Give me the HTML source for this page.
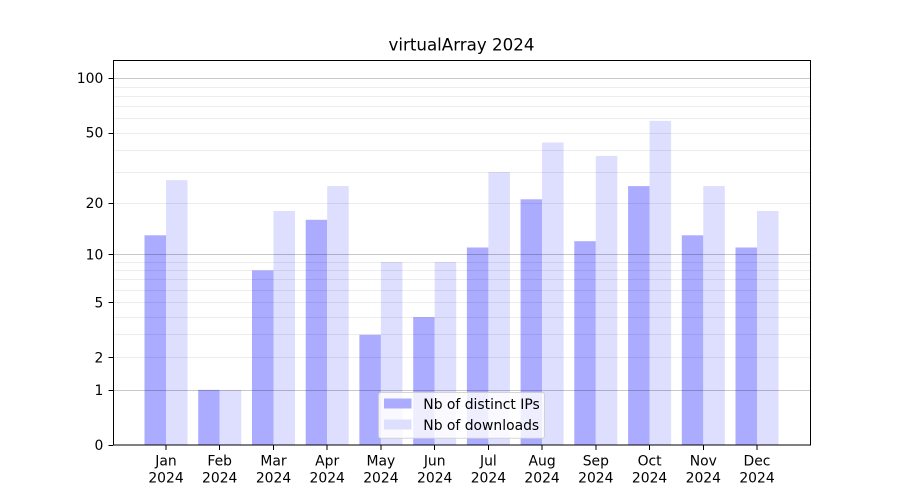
<!DOCTYPE html>
<html><head><meta charset="utf-8"><style>
html,body{margin:0;padding:0;background:#fff;}
svg{display:block;font-family:"DejaVu Sans","Liberation Sans",sans-serif;}
</style></head><body>
<svg width="900" height="500" viewBox="0 0 900 500" xmlns="http://www.w3.org/2000/svg">
<rect width="900" height="500" fill="#fff"/>
<!-- bars -->
<g>
<rect x="144.5" y="235.3" width="21.5" height="209.7" fill="#ababff"/>
<rect x="166.0" y="180.2" width="21.5" height="264.8" fill="#dedeff"/>
<rect x="198.2" y="389.9" width="21.5" height="55.1" fill="#ababff"/>
<rect x="219.7" y="389.9" width="21.5" height="55.1" fill="#dedeff"/>
<rect x="252.0" y="270.4" width="21.5" height="174.6" fill="#ababff"/>
<rect x="273.5" y="211.0" width="21.5" height="234.0" fill="#dedeff"/>
<rect x="305.7" y="219.8" width="21.5" height="225.2" fill="#ababff"/>
<rect x="327.2" y="186.1" width="21.5" height="258.9" fill="#dedeff"/>
<rect x="359.4" y="334.8" width="21.5" height="110.2" fill="#ababff"/>
<rect x="380.9" y="262.0" width="21.5" height="183.0" fill="#dedeff"/>
<rect x="413.2" y="317.1" width="21.5" height="127.9" fill="#ababff"/>
<rect x="434.7" y="262.0" width="21.5" height="183.0" fill="#dedeff"/>
<rect x="466.9" y="247.5" width="21.5" height="197.5" fill="#ababff"/>
<rect x="488.4" y="172.1" width="21.5" height="272.9" fill="#dedeff"/>
<rect x="520.6" y="199.3" width="21.5" height="245.7" fill="#ababff"/>
<rect x="542.1" y="142.5" width="21.5" height="302.5" fill="#dedeff"/>
<rect x="574.3" y="241.2" width="21.5" height="203.8" fill="#ababff"/>
<rect x="595.8" y="155.9" width="21.5" height="289.1" fill="#dedeff"/>
<rect x="628.1" y="186.1" width="21.5" height="258.9" fill="#ababff"/>
<rect x="649.6" y="120.9" width="21.5" height="324.1" fill="#dedeff"/>
<rect x="681.8" y="235.3" width="21.5" height="209.7" fill="#ababff"/>
<rect x="703.3" y="186.1" width="21.5" height="258.9" fill="#dedeff"/>
<rect x="735.5" y="247.5" width="21.5" height="197.5" fill="#ababff"/>
<rect x="757.0" y="211.0" width="21.5" height="234.0" fill="#dedeff"/>
</g>
<!-- minor grid -->
<g stroke="rgba(0,0,0,0.075)" stroke-width="1" shape-rendering="crispEdges">
<line x1="113" x2="810" y1="357.5" y2="357.5"/>
<line x1="113" x2="810" y1="334.5" y2="334.5"/>
<line x1="113" x2="810" y1="317.5" y2="317.5"/>
<line x1="113" x2="810" y1="302.5" y2="302.5"/>
<line x1="113" x2="810" y1="290.5" y2="290.5"/>
<line x1="113" x2="810" y1="279.5" y2="279.5"/>
<line x1="113" x2="810" y1="270.5" y2="270.5"/>
<line x1="113" x2="810" y1="262.5" y2="262.5"/>
<line x1="113" x2="810" y1="203.5" y2="203.5"/>
<line x1="113" x2="810" y1="172.5" y2="172.5"/>
<line x1="113" x2="810" y1="150.5" y2="150.5"/>
<line x1="113" x2="810" y1="133.5" y2="133.5"/>
<line x1="113" x2="810" y1="118.5" y2="118.5"/>
<line x1="113" x2="810" y1="106.5" y2="106.5"/>
<line x1="113" x2="810" y1="96.5" y2="96.5"/>
<line x1="113" x2="810" y1="87.5" y2="87.5"/>
</g>
<!-- major grid -->
<g stroke="rgba(0,0,0,0.22)" stroke-width="1" shape-rendering="crispEdges">
<line x1="113" x2="810" y1="390.5" y2="390.5"/>
<line x1="113" x2="810" y1="254.5" y2="254.5"/>
<line x1="113" x2="810" y1="78.5" y2="78.5"/>
</g>
<!-- axes frame -->
<rect x="113.5" y="60.5" width="697" height="384.5" fill="none" stroke="#000" stroke-width="1" shape-rendering="crispEdges"/>
<!-- y ticks -->
<g stroke="#000" stroke-width="1" shape-rendering="crispEdges">
<line x1="108.5" x2="113" y1="445.5" y2="445.5"/>
<line x1="108.5" x2="113" y1="390.5" y2="390.5"/>
<line x1="108.5" x2="113" y1="357.5" y2="357.5"/>
<line x1="108.5" x2="113" y1="302.5" y2="302.5"/>
<line x1="108.5" x2="113" y1="254.5" y2="254.5"/>
<line x1="108.5" x2="113" y1="203.5" y2="203.5"/>
<line x1="108.5" x2="113" y1="133.5" y2="133.5"/>
<line x1="108.5" x2="113" y1="78.5" y2="78.5"/>
</g>
<g font-size="13.9" fill="#000" text-anchor="end">
<text x="103.3" y="450">0</text>
<text x="103.3" y="394.9">1</text>
<text x="103.3" y="362.7">2</text>
<text x="103.3" y="307.6">5</text>
<text x="103.3" y="259.4">10</text>
<text x="103.3" y="208.0">20</text>
<text x="103.3" y="137.5">50</text>
<text x="103.3" y="83.2">100</text>
</g>
<!-- x ticks -->
<g stroke="#000" stroke-width="1" shape-rendering="crispEdges">
<line x1="166.0" x2="166.0" y1="445" y2="450"/>
<line x1="219.7" x2="219.7" y1="445" y2="450"/>
<line x1="273.5" x2="273.5" y1="445" y2="450"/>
<line x1="327.2" x2="327.2" y1="445" y2="450"/>
<line x1="380.9" x2="380.9" y1="445" y2="450"/>
<line x1="434.7" x2="434.7" y1="445" y2="450"/>
<line x1="488.4" x2="488.4" y1="445" y2="450"/>
<line x1="542.1" x2="542.1" y1="445" y2="450"/>
<line x1="595.8" x2="595.8" y1="445" y2="450"/>
<line x1="649.6" x2="649.6" y1="445" y2="450"/>
<line x1="703.3" x2="703.3" y1="445" y2="450"/>
<line x1="757.0" x2="757.0" y1="445" y2="450"/>
</g>
<g font-size="13.9" fill="#000" text-anchor="middle">
<text x="166.0" y="465.5">Jan</text><text x="166.0" y="482.3">2024</text>
<text x="219.7" y="465.5">Feb</text><text x="219.7" y="482.3">2024</text>
<text x="273.5" y="465.5">Mar</text><text x="273.5" y="482.3">2024</text>
<text x="327.2" y="465.5">Apr</text><text x="327.2" y="482.3">2024</text>
<text x="380.9" y="465.5">May</text><text x="380.9" y="482.3">2024</text>
<text x="434.7" y="465.5">Jun</text><text x="434.7" y="482.3">2024</text>
<text x="488.4" y="465.5">Jul</text><text x="488.4" y="482.3">2024</text>
<text x="542.1" y="465.5">Aug</text><text x="542.1" y="482.3">2024</text>
<text x="595.8" y="465.5">Sep</text><text x="595.8" y="482.3">2024</text>
<text x="649.6" y="465.5">Oct</text><text x="649.6" y="482.3">2024</text>
<text x="703.3" y="465.5">Nov</text><text x="703.3" y="482.3">2024</text>
<text x="757.0" y="465.5">Dec</text><text x="757.0" y="482.3">2024</text>
</g>
<!-- title -->
<text x="461.5" y="50.7" font-size="16.7" text-anchor="middle" fill="#000">virtualArray 2024</text>
<!-- legend -->
<rect x="378.5" y="392.5" width="166" height="45.7" rx="2.5" ry="2.5" fill="rgba(255,255,255,0.8)" stroke="rgba(204,204,204,0.8)" stroke-width="1"/>
<rect x="384" y="398.5" width="27.5" height="10" fill="#ababff"/>
<rect x="384" y="419.5" width="27.5" height="10" fill="#dedeff"/>
<g font-size="13.9" fill="#000">
<text x="423.3" y="409">Nb of distinct IPs</text>
<text x="423.3" y="430">Nb of downloads</text>
</g>
</svg>
</body></html>
